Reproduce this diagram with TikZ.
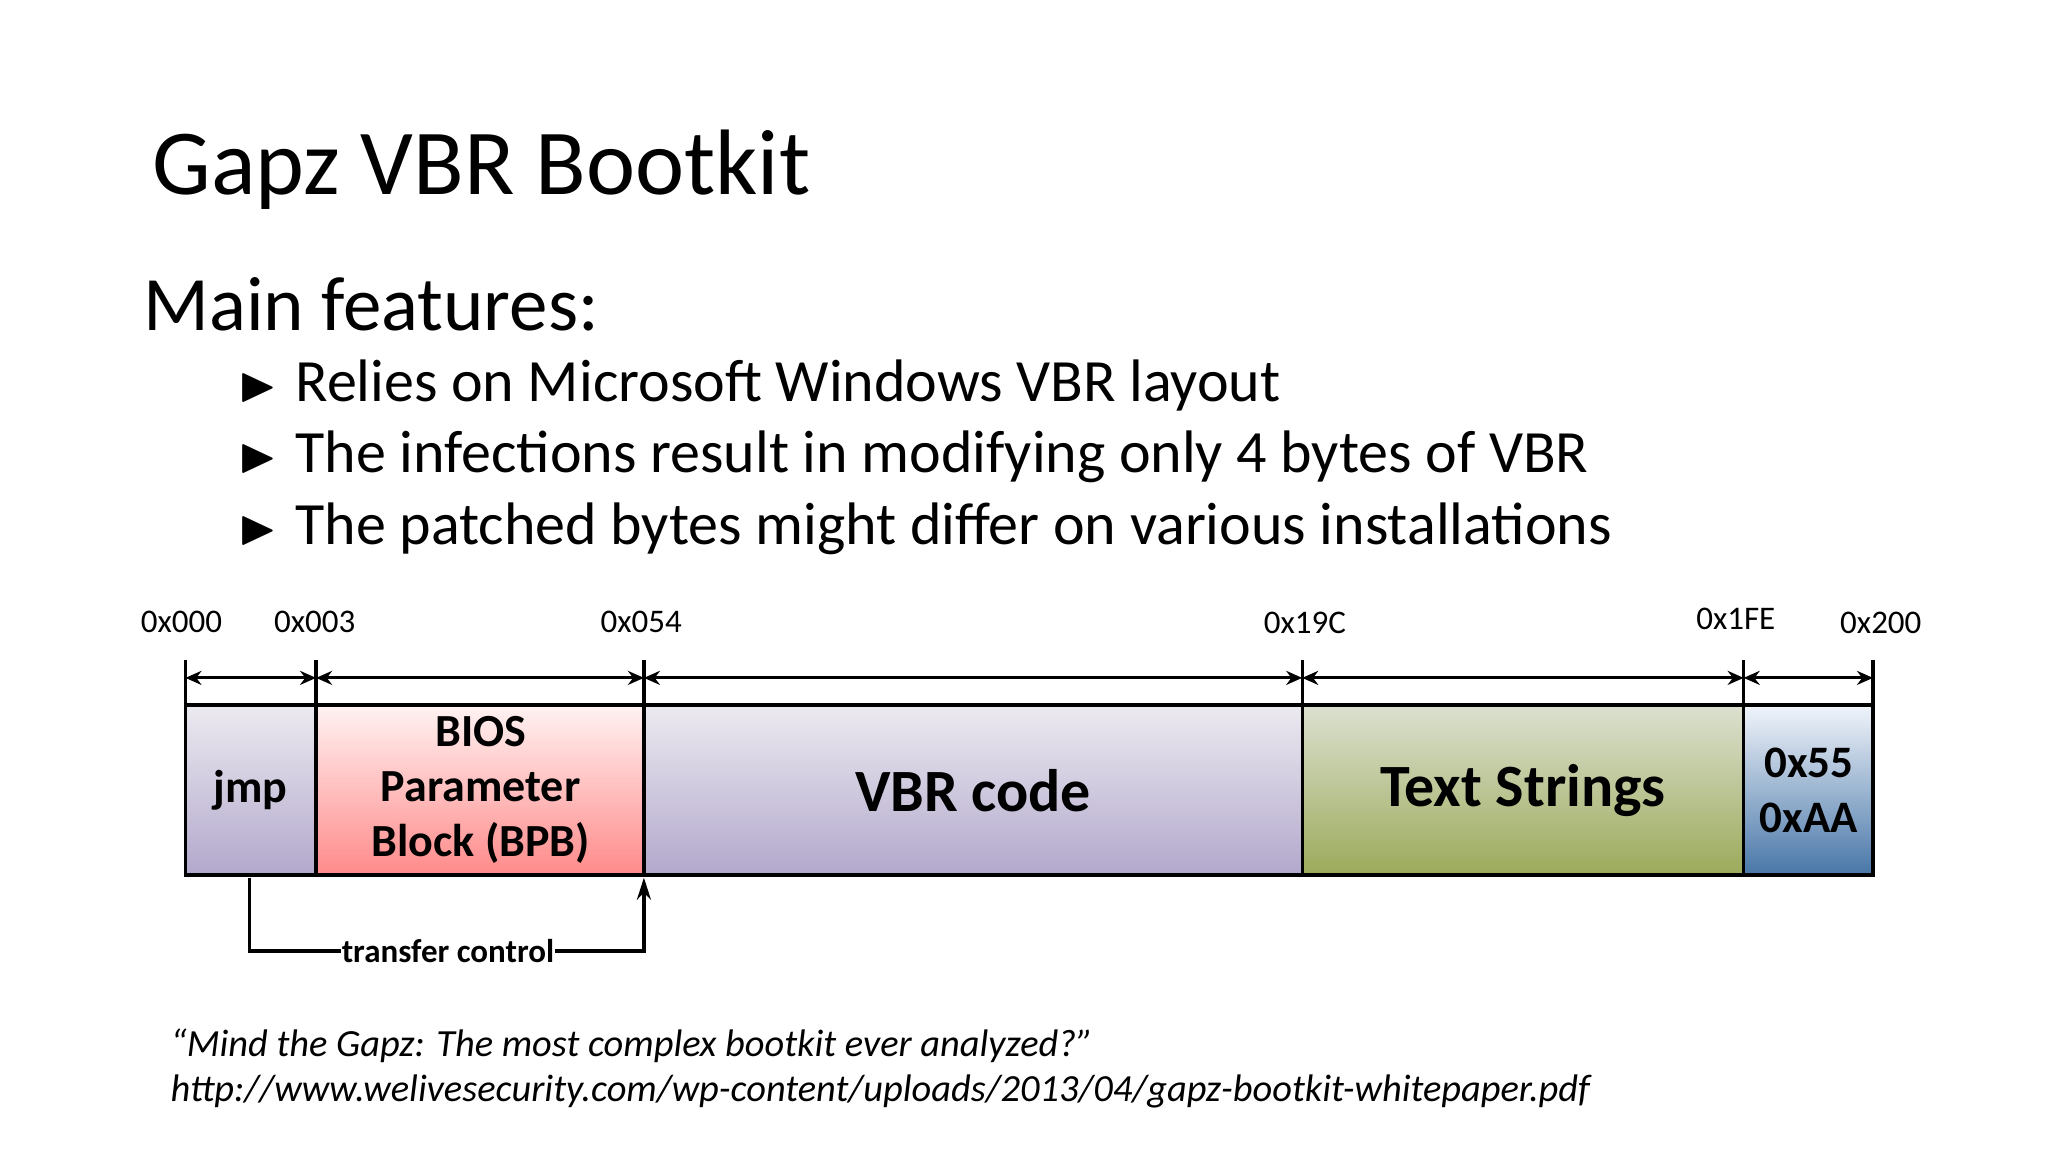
\documentclass[tikz,border=0pt]{standalone}
\usepackage{amssymb}
\usepackage{fontspec}
\setmainfont{Carlito}
\usetikzlibrary{arrows.meta}
\begin{document}
\begin{tikzpicture}[x=1.306pt,y=-1.306pt,
  seg/.style={draw=black,line width=4.2pt},
  dim/.style={line width=3pt,{Stealth[length=16pt,width=14pt]}-{Stealth[length=16pt,width=14pt]}},
  tick/.style={line width=3.2pt},
  hex/.style={font=\fontsize{33}{36}\selectfont},
  big/.style={font=\bfseries\fontsize{60}{64}\selectfont},
  mid/.style={font=\bfseries\fontsize{46}{55}\selectfont,align=center}]
\useasboundingbox (0,0) rectangle (1568,882);
\node[anchor=west,font=\fontsize{93}{98}\selectfont] (title) at (114,130) {Gapz VBR Bootkit};
\node[anchor=west,font=\fontsize{77}{80}\selectfont] (mf) at (107,233) {Main features:};
\foreach \y/\t [count=\i] in {295/Relies on Microsoft Windows VBR layout,350/The infections result in modifying only 4 bytes of VBR,405/The patched bytes might differ on various installations}{
  \node[anchor=west,font=\fontsize{60}{64}\selectfont] (b\i) at (180,\y) {\raisebox{1pt}{\fontsize{50}{50}\selectfont$\blacktriangleright$}\hspace{0.3em}\t};
}
% boxes
\shade[top color={rgb,255:red,236;green,234;blue,240},bottom color={rgb,255:red,178;green,168;blue,204}] (142,540) rectangle (242,670);
\shade[top color={rgb,255:red,255;green,242;blue,242},bottom color={rgb,255:red,255;green,138;blue,138}] (242,540) rectangle (493,670);
\shade[top color={rgb,255:red,236;green,234;blue,240},bottom color={rgb,255:red,178;green,168;blue,204}] (493,540) rectangle (997,670);
\shade[top color={rgb,255:red,220;green,224;blue,208},bottom color={rgb,255:red,155;green,170;blue,90}] (997,540) rectangle (1335,670);
\shade[top color={rgb,255:red,240;green,244;blue,250},bottom color={rgb,255:red,72;green,118;blue,168}] (1335,540) rectangle (1434,670);
\foreach \x/\n in {142/a,242/b,493/c,997/d,1335/e,1434/f}{
  \coordinate (t\n) at (\x,505);
  \coordinate (m\n) at (\x,519);
  \draw[tick] (\x,505) -- (\x,670);
}
\draw[seg] (140.5,540) -- (1435.5,540) (140.5,670) -- (1435.5,670);
\draw[dim] (ma) -- (mb);
\draw[dim] (mb) -- (mc);
\draw[dim] (mc) -- (md);
\draw[dim] (md) -- (me);
\draw[dim] (me) -- (mf);
\node[hex] (h1) at (139,476) {0x000};
\node[hex] (h2) at (241,476) {0x003};
\node[hex] (h3) at (491,476) {0x054};
\node[hex] (h4) at (999,477) {0x19C};
\node[hex] (h5) at (1329,474) {0x1FE};
\node[hex] (h6) at (1440,477) {0x200};
\node[mid] (jmp) at (192,605) {jmp};
\node[mid] (bpb) at (368,605) {BIOS\\Parameter\\Block (BPB)};
\node[big] (vbr) at (745,605) {VBR code};
\node[big] (txt) at (1166,605) {Text Strings};
\node[mid,font=\bfseries\fontsize{45}{55}\selectfont] (sig) at (1385,605) {0x55\\0xAA};
\coordinate (j0) at (191,672);
\coordinate (c0) at (493,672);
\draw[line width=3.5pt,-{Stealth[length=22pt,width=14pt]}] (j0) -- (191,728) -- (493,728) -- (c0);
\node[fill=white,inner sep=1pt,font=\bfseries\fontsize{33}{34}\selectfont] (tc) at (343,728) {transfer control};
\node[anchor=west,font=\itshape\fontsize{38.4}{40}\selectfont] (q1) at (128,801) {“Mind the Gapz: The most complex bootkit ever analyzed?”};
\node[anchor=west,font=\itshape\fontsize{38.4}{40}\selectfont] (q2) at (128,836) {http://www.welivesecurity.com/wp-content/uploads/2013/04/gapz-bootkit-whitepaper.pdf};
\end{tikzpicture}
\end{document}
